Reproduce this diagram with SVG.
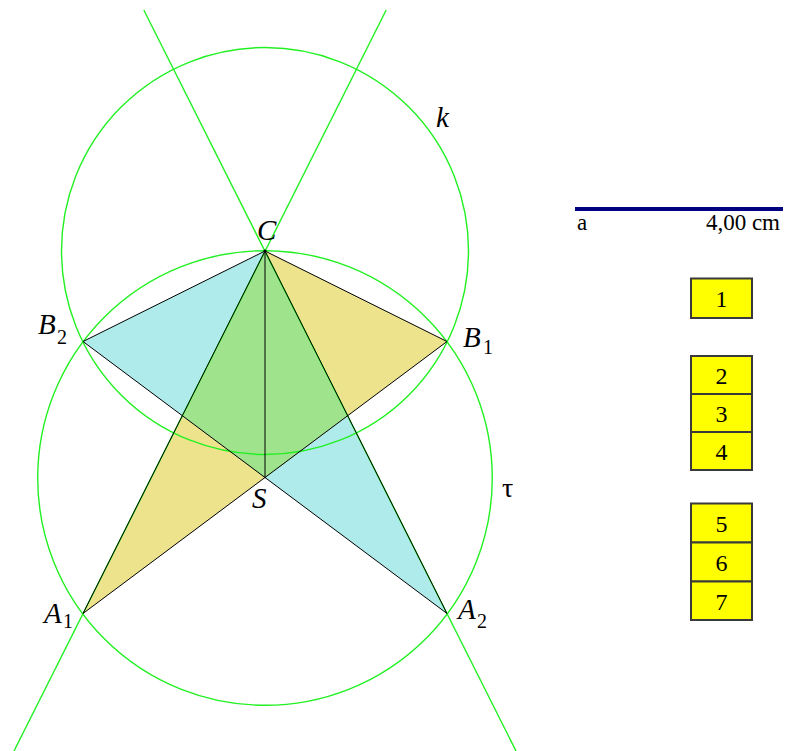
<svg xmlns="http://www.w3.org/2000/svg" width="785" height="751" viewBox="0 0 785 751">
<style>
.g{fill:none;stroke:#22f022;stroke-width:1.4}
.e{fill:none;stroke:#000;stroke-width:1}
.lbl{font-family:"Liberation Serif",serif;font-style:italic;font-size:29px;fill:#000}
.sub{font-family:"Liberation Serif",serif;font-size:20px;fill:#000}
.btn rect{fill:#ffff00;stroke:#3a3a3a;stroke-width:2}
.btn text{font-family:"Liberation Serif",serif;font-size:24px;fill:#000;text-anchor:middle}
.t{font-family:"Liberation Serif",serif;font-size:23px;fill:#000}
</style>
<rect width="785" height="751" fill="#fff"/>
<g id="fills">
<polygon points="265,251 83,341.5 447,613.5" fill="#afebeb"/>
<polygon points="265,251 447,341.5 83,613.5" fill="#ede38d"/>
<polygon points="265,251 182.2,415.7 265,478 347.8,415.7" fill="#9fe38d"/>
</g>
<g id="connectors">
<circle class="g" cx="265" cy="251" r="203.5"/>
<circle class="g" cx="265" cy="478" r="227.3"/>
<line class="g" x1="386.2" y1="10" x2="14" y2="751"/>
<line class="g" x1="143.8" y1="10" x2="516" y2="751"/>
<polygon class="e" points="265,251 83,341.5 447,613.5"/>
<polygon class="e" points="265,251 447,341.5 83,613.5"/>
<line class="e" x1="265" y1="251" x2="265" y2="478"/>
</g>
<g id="C"><circle cx="265" cy="251" r="1.5"/><text class="lbl" x="257" y="240">C</text></g>
<g id="B2"><text class="lbl" x="38" y="334">B</text><text class="sub" x="57" y="344">2</text></g>
<g id="B1"><text class="lbl" x="463" y="347">B</text><text class="sub" x="483" y="354">1</text></g>
<g id="S"><text class="lbl" x="252" y="508">S</text></g>
<g id="A1"><text class="lbl" x="44" y="623">A</text><text class="sub" x="63" y="628">1</text></g>
<g id="A2"><text class="lbl" x="458" y="619">A</text><text class="sub" x="477" y="628">2</text></g>
<g id="k"><text class="lbl" x="436" y="127">k</text></g>
<g id="tau"><text x="502" y="497" style="font-family:'Liberation Serif',serif;font-size:28px">τ</text></g>
<g id="slider">
<line x1="575" y1="209" x2="783" y2="209" stroke="#000080" stroke-width="4"/>
<text class="t" x="577" y="230">a</text>
<text class="t" x="780" y="230" text-anchor="end">4,00 cm</text>
</g>
<g id="b1" class="btn"><rect x="691" y="278.5" width="61" height="39.5"/><text x="721.5" y="307">1</text></g>
<g id="b2" class="btn"><rect x="691" y="356" width="61" height="38"/><text x="721.5" y="384">2</text></g>
<g id="b3" class="btn"><rect x="691" y="394" width="61" height="38"/><text x="721.5" y="422">3</text></g>
<g id="b4" class="btn"><rect x="691" y="432" width="61" height="38"/><text x="721.5" y="460">4</text></g>
<g id="b5" class="btn"><rect x="691" y="503.5" width="61" height="39"/><text x="721.5" y="532">5</text></g>
<g id="b6" class="btn"><rect x="691" y="542.5" width="61" height="39"/><text x="721.5" y="571">6</text></g>
<g id="b7" class="btn"><rect x="691" y="581.5" width="61" height="38.5"/><text x="721.5" y="610">7</text></g>
</svg>
